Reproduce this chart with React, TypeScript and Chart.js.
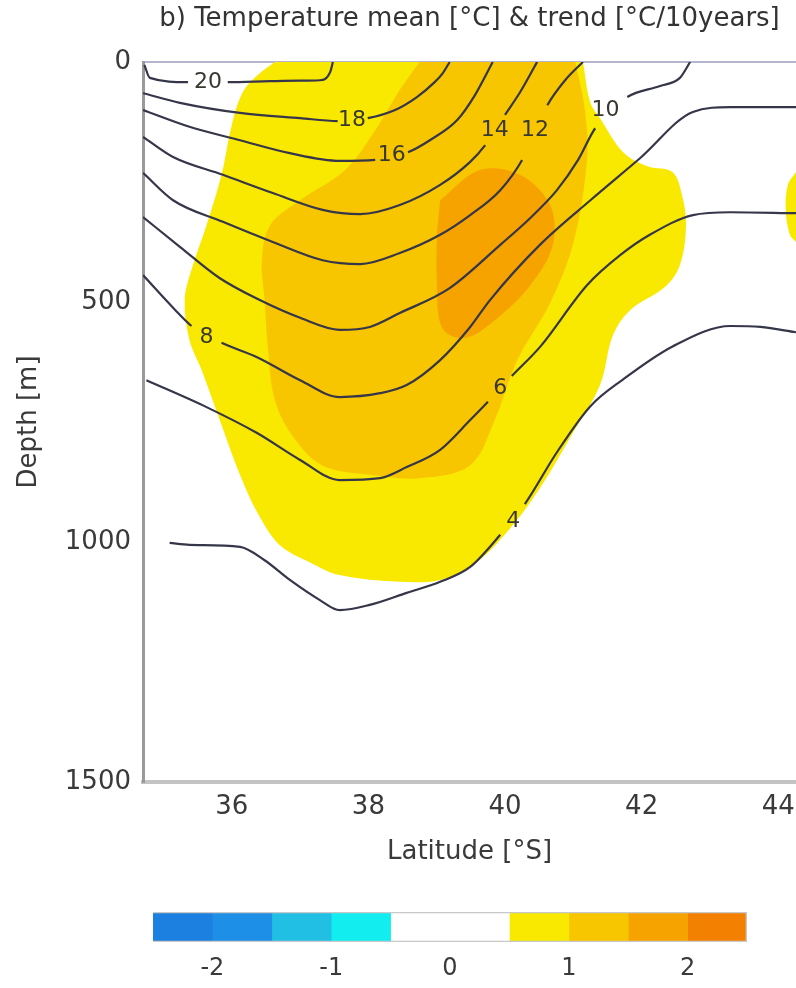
import React, { useEffect, useRef } from 'react';
import { Chart, registerables } from 'chart.js';

Chart.register(...registerables);

const FONT = '"DejaVu Sans", "Liberation Sans", sans-serif';

// Axis ticks
const latTicks = [36, 38, 40, 42, 44];
const depthTicks = [0, 500, 1000, 1500];

// Mean temperature isotherms (latitude °S, depth m)
const contourLevels = [20, 18, 16, 14, 12, 10, 8, 6, 4];
const t20Lat = [34.72, 34.8, 35.36, 35.94, 36.56, 37.0, 37.29, 37.44, 37.48];
const t20Depth = [6, 33, 42, 42, 40, 39, 38, 21, 0];
const t18Lat = [34.7, 35.24, 36.12, 37.0, 37.55, 37.99, 38.39, 38.71, 38.97, 39.09, 39.19];
const t18Depth = [65, 85, 106, 117, 123, 117, 100, 73, 42, 23, 0];
const t16Lat = [34.7, 35.38, 36.12, 36.85, 37.58, 38.1, 38.58, 38.9, 39.3, 39.56, 39.82];
const t16Depth = [100, 135, 163, 190, 206, 204, 188, 163, 121, 69, 0];
const t14Lat = [34.7, 35.14, 35.87, 36.6, 37.33, 37.88, 38.46, 39.05, 39.49, 39.71, 40.0, 40.22, 40.47];
const t14Depth = [156, 198, 235, 273, 308, 317, 298, 256, 208, 173, 110, 63, 0];
const t12Lat = [34.7, 35.14, 35.87, 36.6, 37.33, 37.88, 38.46, 39.05, 39.49, 39.93, 40.25, 40.62, 40.88, 41.14];
const t12Depth = [231, 288, 333, 375, 413, 421, 398, 360, 319, 267, 204, 90, 38, 0];
const t10Lat = [34.7, 35.24, 35.82, 36.41, 37.0, 37.58, 38.02, 38.46, 39.19, 39.93, 40.37, 40.76, 41.07, 41.32, 41.79, 42.27, 42.56, 42.71];
const t10Depth = [323, 385, 450, 496, 533, 558, 552, 523, 471, 381, 325, 267, 204, 138, 73, 50, 33, 0];
const t8Lat = [34.7, 35.16, 35.41, 35.85, 36.37, 37.0, 37.58, 38.17, 38.56, 39.05, 39.49, 39.78, 40.51, 41.25, 41.98, 42.75, 43.3, 44.26];
const t8Depth = [444, 515, 550, 585, 615, 663, 698, 690, 673, 621, 552, 496, 381, 288, 200, 104, 94, 94];
const t6Lat = [34.75, 35.63, 36.37, 37.0, 37.58, 38.17, 38.56, 39.05, 39.49, 39.75, 40.1, 40.51, 41.2, 41.69, 42.12, 42.75, 43.3, 44.26];
const t6Depth = [663, 719, 773, 829, 871, 867, 844, 808, 746, 708, 654, 594, 465, 402, 360, 319, 313, 315];
const t4Lat = [35.09, 35.38, 36.12, 36.48, 36.85, 37.29, 37.58, 38.02, 38.56, 39.05, 39.49, 39.93, 40.29, 40.76, 41.25, 41.73, 42.46, 43.3, 43.74, 44.26];
const t4Depth = [1002, 1006, 1010, 1038, 1079, 1121, 1142, 1131, 1106, 1083, 1052, 985, 921, 813, 717, 661, 592, 550, 552, 563];

// Isotherm label positions
const labelLat = [35.65, 37.76, 38.34, 39.85, 40.44, 41.47, 35.63, 39.93, 40.12];
const labelDepth = [42, 121, 194, 142, 142, 100, 573, 679, 956];

// Trend regions (outline latitude / depth), levels in °C/10years
const trendLevels = [0.5, 1.0, 1.5, 0.5];
const trend05Lat = [36.63, 36.38, 36.16, 36.0, 35.85, 35.63, 35.41, 35.31, 35.38, 35.56, 35.85, 36.12, 36.38, 36.7, 37.14, 37.58, 38.46, 39.05, 39.53, 40.03, 40.51, 41.0, 41.39, 41.58, 41.83, 42.34, 42.56, 42.65, 42.59, 42.45, 42.08, 41.73, 41.39, 41.25, 41.14];
const trend05Depth = [0, 27, 63, 131, 235, 340, 433, 496, 579, 642, 756, 860, 940, 1006, 1042, 1069, 1083, 1079, 1048, 979, 888, 771, 673, 569, 517, 469, 423, 340, 277, 229, 217, 188, 117, 85, 0];
const trend10Lat = [38.75, 38.46, 38.1, 37.66, 37.0, 36.56, 36.44, 36.48, 36.53, 36.63, 36.88, 37.32, 38.02, 38.75, 39.49, 39.85, 40.18, 40.66, 41.0, 41.2, 41.17, 41.03];
const trend10Depth = [0, 58, 142, 225, 288, 340, 413, 496, 600, 704, 777, 840, 860, 867, 840, 746, 621, 502, 377, 204, 100, 0];
const trend15Lat = [39.05, 39.63, 40.22, 40.66, 40.7, 40.37, 39.85, 39.41, 39.08, 39.0, 39.0];
const trend15Depth = [288, 225, 235, 298, 381, 465, 538, 575, 554, 454, 360];
const trendEdgeLat = [44.26, 44.14, 44.11, 44.17, 44.26];
const trendEdgeDepth = [229, 256, 308, 360, 375];

// Colour bar
const colorbarEdges = [-2.5, -2, -1.5, -1, -0.5, 0, 0.5, 1, 1.5, 2, 2.5];
const colorbarColors = ['#1b80e0', '#1e8fe6', '#22bfe4', '#12eef0', '#ffffff', '#ffffff', '#f9e800', '#f8c600', '#f6a300', '#f38000'];
const colorbarTicks = [-2, -1, 0, 1, 2];

const contourLats = [t20Lat, t18Lat, t16Lat, t14Lat, t12Lat, t10Lat, t8Lat, t6Lat, t4Lat];
const contourDepths = [t20Depth, t18Depth, t16Depth, t14Depth, t12Depth, t10Depth, t8Depth, t6Depth, t4Depth];
const trendLats = [trend05Lat, trend10Lat, trend15Lat, trendEdgeLat];
const trendDepths = [trend05Depth, trend10Depth, trend15Depth, trendEdgeDepth];

const zip = (a: number[], b: number[]) => a.map((v, i) => ({ x: v, y: b[i] }));

const colorFor = (level: number) => {
  const i = colorbarEdges.findIndex((e, k) => level >= e && level < colorbarEdges[k + 1]);
  return colorbarColors[i];
};

const labelPlugin = {
  id: 'contourLabels',
  afterDatasetsDraw(chart: any) {
    const { ctx, scales } = chart;
    ctx.save();
    ctx.font = `22px ${FONT}`;
    ctx.fillStyle = '#383830';
    ctx.textAlign = 'center';
    ctx.textBaseline = 'middle';
    contourLevels.forEach((lev, k) => {
      ctx.fillText(String(lev), scales.x.getPixelForValue(labelLat[k]), scales.y.getPixelForValue(labelDepth[k]));
    });
    ctx.restore();
  },
};

const noPad = (s: any) => {
  s.paddingLeft = 0;
  s.paddingRight = 0;
};

export default function App() {
  const mainRef = useRef<HTMLCanvasElement>(null);
  const barRef = useRef<HTMLCanvasElement>(null);

  useEffect(() => {
    const fills = trendLats.map((lats, i) => ({
      data: zip(lats, trendDepths[i]),
      showLine: true,
      fill: 'shape',
      backgroundColor: colorFor(trendLevels[i]),
      borderColor: 'rgba(0,0,0,0)',
      borderWidth: 1,
      pointRadius: 0,
      tension: 0.35,
      order: 10 - i,
    }));
    const lines = contourLats.map((lats, k) => ({
      data: zip(lats, contourDepths[k]),
      showLine: true,
      fill: false,
      borderColor: '#36364a',
      borderWidth: 2.2,
      pointRadius: 0,
      cubicInterpolationMode: 'monotone',
      order: 0,
      segment: {
        borderColor: (sc: any) => {
          const i0 = sc.p0DataIndex;
          const i1 = sc.p1DataIndex;
          return labelLat[k] > lats[i0] && labelLat[k] < lats[i1] ? 'rgba(0,0,0,0)' : undefined;
        },
      },
    }));

    const main = new Chart(mainRef.current as HTMLCanvasElement, {
      type: 'scatter',
      data: { datasets: [...fills, ...lines] as any },
      options: {
        responsive: false,
        animation: false,
        layout: { padding: 0 },
        plugins: { legend: { display: false }, tooltip: { enabled: false }, title: { display: false } },
        scales: {
          x: {
            type: 'linear',
            position: 'bottom',
            min: 34.7,
            max: 44.26,
            afterBuildTicks: (s: any) => {
              s.ticks = latTicks.map((v) => ({ value: v }));
            },
            afterFit: (s: any) => {
              s.height = 98;
              noPad(s);
            },
            ticks: { font: { family: FONT, size: 26 }, color: '#3a3a3a', padding: 10 },
            grid: { display: false, drawTicks: false },
            border: { display: true, color: '#c4c4c4', width: 4 },
            title: {
              display: true,
              text: 'Latitude [°S]',
              font: { family: FONT, size: 26 },
              color: '#3a3a3a',
              padding: { top: 0, bottom: 12 },
            },
          },
          x2: {
            type: 'linear',
            position: 'top',
            min: 34.7,
            max: 44.26,
            afterFit: (s: any) => {
              s.height = 62;
              noPad(s);
            },
            ticks: { display: false },
            grid: { display: false, drawTicks: false },
            border: { display: true, color: '#b4b4cc', width: 2, dash: [2, 2] },
            title: {
              display: true,
              text: 'b) Temperature mean [°C] & trend [°C/10years]',
              font: { family: FONT, size: 26 },
              color: '#333333',
              padding: { top: 4, bottom: 0 },
            },
          },
          y: {
            type: 'linear',
            reverse: true,
            min: 0,
            max: 1500,
            afterBuildTicks: (s: any) => {
              s.ticks = depthTicks.map((v) => ({ value: v }));
            },
            afterFit: (s: any) => {
              s.width = 143;
            },
            ticks: {
              font: { family: FONT, size: 26 },
              color: '#3a3a3a',
              padding: 12,
              callback: (v: number) => String(v),
            },
            grid: { display: false, drawTicks: false },
            border: { display: true, color: '#9a9a9a', width: 3 },
            title: {
              display: true,
              text: 'Depth [m]',
              font: { family: FONT, size: 26 },
              color: '#3a3a3a',
              padding: { top: 14, bottom: 0 },
            },
          },
        },
      } as any,
      plugins: [labelPlugin],
    });

    const segs = colorbarColors.map((c, i) => ({
      data: [[colorbarEdges[i], colorbarEdges[i + 1]]],
      backgroundColor: c,
      borderWidth: 0,
      grouped: false,
      barPercentage: 1,
      categoryPercentage: 1,
      order: 1,
    }));
    const outline = {
      data: [[colorbarEdges[0], colorbarEdges[colorbarEdges.length - 1]]],
      backgroundColor: 'rgba(0,0,0,0)',
      borderColor: '#c8c8c8',
      borderWidth: 1,
      grouped: false,
      barPercentage: 1,
      categoryPercentage: 1,
      order: 0,
    };

    const bar = new Chart(barRef.current as HTMLCanvasElement, {
      type: 'bar',
      data: { labels: [''], datasets: [...segs, outline] as any },
      options: {
        indexAxis: 'y',
        responsive: false,
        animation: false,
        layout: { padding: { left: 153, right: 49, top: 12, bottom: 0 } },
        plugins: { legend: { display: false }, tooltip: { enabled: false } },
        scales: {
          x: {
            type: 'linear',
            min: -2.5,
            max: 2.5,
            afterBuildTicks: (s: any) => {
              s.ticks = colorbarTicks.map((v) => ({ value: v }));
            },
            afterFit: (s: any) => {
              s.height = 46;
            },
            ticks: { font: { family: FONT, size: 24 }, color: '#3a3a3a', padding: 12 },
            grid: { display: false, drawTicks: false },
            border: { display: false },
          },
          y: { display: false },
        },
      } as any,
    });

    return () => {
      main.destroy();
      bar.destroy();
    };
  }, []);

  return (
    <div style={{ position: 'absolute', left: 0, top: 0, width: 796, height: 988, background: '#ffffff', overflow: 'hidden' }}>
      <canvas ref={mainRef} width={796} height={880} style={{ position: 'absolute', left: 0, top: 0, display: 'block' }} />
      <canvas ref={barRef} width={796} height={88} style={{ position: 'absolute', left: 0, top: 900, display: 'block' }} />
    </div>
  );
}
